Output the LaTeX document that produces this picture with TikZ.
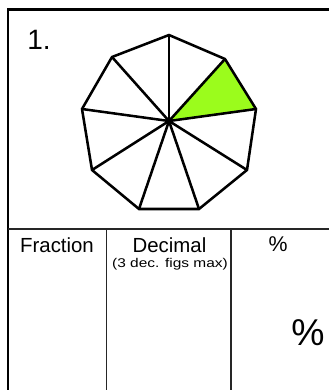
\documentclass[tikz,border=0pt]{standalone}
\usepackage{fontspec}
\setmainfont{Liberation Sans}
\usetikzlibrary{positioning,calc}
\definecolor{shadegreen}{RGB}{155,252,28}

\begin{document}
\begin{tikzpicture}[x=0.75pt, y=-0.75pt,
    outline/.style={line width=1.9pt, line join=round},
    spoke/.style={line width=1.9pt, line cap=round},
    rule/.style={line width=1.5pt, black!85},
    divider/.style={line width=1pt, black!85},
    headtext/.style={inner sep=0pt, anchor=base, font=\fontsize{15.3}{17}\selectfont}]
  \clip (0,0) rectangle (329,390);

  % Worksheet frame, cut off at the right and bottom.
  \draw[line width=1.9pt] (8,392) -- (8,9.3) -- (331,9.3);
  \node[inner sep=0pt, anchor=base west, font=\fontsize{21}{24}\selectfont] (qnum) at (27,49) {1.};

  % Nonagon split into nine triangles from its centre.
  \coordinate (ctr) at (169,121);
  \coordinate (v1) at (169,35);
  \coordinate (v2) at (225,59);
  \coordinate (v3) at (256,109);
  \coordinate (v4) at (247,170);
  \coordinate (v5) at (199,209);
  \coordinate (v6) at (139,209);
  \coordinate (v7) at (92,170);
  \coordinate (v8) at (82,109);
  \coordinate (v9) at (112,57);

  \fill[shadegreen] (ctr) -- (v2) -- (v3) -- cycle;
  \foreach \v in {v1,v2,v3,v4,v5,v6,v7,v8,v9}
    \draw[spoke] (ctr) -- (\v);
  \draw[outline] (v1) -- (v2) -- (v3) -- (v4) -- (v5) -- (v6) -- (v7) -- (v8) -- (v9) -- cycle;

  % Answer table.
  \draw[rule] (8,229.3) -- (331,229.3);
  \draw[divider] (106.5,229.3) -- (106.5,392);
  \draw[divider] (231,229.3) -- (231,392);

  \node[headtext] (fraction) at (57,252) {Fraction};
  \node[headtext] (decimal) at (169.5,252) {Decimal};
  \node[inner sep=0pt, anchor=base, font=\fontsize{9.5}{11}\selectfont] (decnote) at (170,267)
    {\scalebox{1.22}[1]{(3 dec. figs max)}};
  \node[inner sep=0pt, anchor=base, font=\fontsize{16}{18}\selectfont] (pcthead) at (278,251) {\%};
  \node[inner sep=0pt, anchor=base, font=\fontsize{28}{30}\selectfont] (pctsign) at (308,345) {\%};
\end{tikzpicture}
\end{document}
